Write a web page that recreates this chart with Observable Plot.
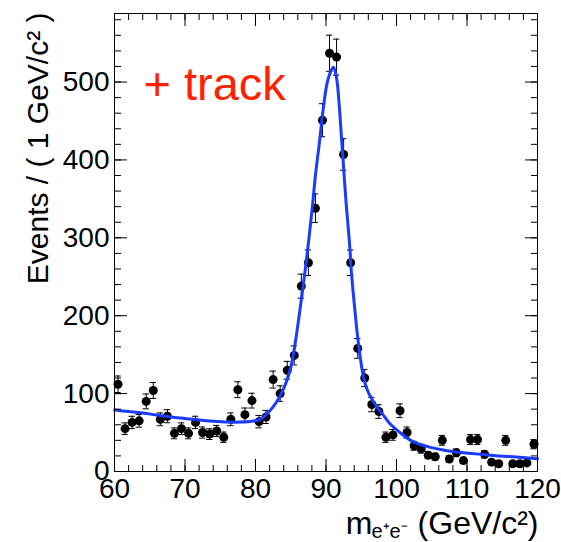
<!DOCTYPE html>
<html>
<head>
<meta charset="utf-8">
<script src="https://cdn.jsdelivr.net/npm/d3@7"></script>
<script src="https://cdn.jsdelivr.net/npm/@observablehq/plot@0.6"></script>
<style>
html, body { margin: 0; padding: 0; background: #fff; }
#chart svg { display: block; }
</style>
</head>
<body>
<div id="chart"></div>
<script>
// ---- Data ----
const massBins = [60.5, 61.5, 62.5, 63.5, 64.5, 65.5, 66.5, 67.5, 68.5, 69.5,
  70.5, 71.5, 72.5, 73.5, 74.5, 75.5, 76.5, 77.5, 78.5, 79.5,
  80.5, 81.5, 82.5, 83.5, 84.5, 85.5, 86.5, 87.5, 88.5, 89.5,
  90.5, 91.5, 92.5, 93.5, 94.5, 95.5, 96.5, 97.5, 98.5, 99.5,
  100.5, 101.5, 102.5, 103.5, 104.5, 105.5, 106.5, 107.5, 108.5, 109.5,
  110.5, 111.5, 112.5, 113.5, 114.5, 115.5, 116.5, 117.5, 118.5, 119.5];
const events = [112, 55, 63, 65, 90, 104, 67, 71, 49, 55,
  49, 63, 50, 48, 52, 44, 67, 105, 73, 91,
  64, 70, 118, 100, 130, 149, 238, 268, 338, 451,
  537, 532, 407, 268, 158, 120, 86, 77, 44, 47,
  78, 50, 33, 29, 21, 19, 40, 16, 24, 14,
  41, 41, 22, 12, 10, 40, 10, 10, 11, 35];
const eventErrors = [10.6, 7.4, 7.9, 8.1, 9.5, 10.2, 8.2, 8.4, 7.0, 7.4,
  7.0, 7.9, 7.1, 6.9, 7.2, 6.6, 8.2, 10.2, 8.5, 9.5,
  8.0, 8.4, 10.9, 10.0, 11.4, 12.2, 15.4, 16.4, 18.4, 21.2,
  23.2, 23.1, 20.2, 16.4, 12.6, 11.0, 9.3, 8.8, 6.6, 6.9,
  8.8, 7.1, 5.7, 5.4, 4.6, 4.4, 6.3, 4.0, 4.9, 3.7,
  6.4, 6.4, 4.7, 3.5, 3.2, 6.3, 3.2, 3.2, 3.3, 5.9];

const fitMass = [60, 62, 64, 66, 68, 70, 72, 74, 76, 78,
  79.5, 80.7, 81.5, 82.5, 83.5, 84.5, 85.2, 85.8, 86.4, 87.1,
  87.6, 88.1, 88.5, 89.1, 89.6, 90.1, 90.6, 91.05, 91.5, 91.9,
  92.2, 92.55, 92.85, 93.3, 93.6, 94.1, 94.6, 95.3, 95.8, 96.5,
  97.2, 98, 99, 100.5, 102, 103.3, 104.8, 107, 109.5, 112,
  114.5, 117, 120];
const fitEvents = [79, 77, 75, 72.5, 70, 68, 66, 64.5, 63.5, 63.5,
  64.5, 67, 73, 83, 97, 118, 142, 175, 214, 262,
  301, 343, 380, 425, 465, 496, 512, 519, 505, 467,
  428, 383, 345, 297, 256, 207, 164, 122, 106, 93,
  83, 74, 62, 50, 40, 35, 31, 27, 24, 22,
  20, 18.5, 16.5];

const xMajorTicks = [60, 70, 80, 90, 100, 110, 120];
const xMinorTicks = [60, 62, 64, 66, 68, 70, 72, 74, 76, 78, 80, 82, 84, 86, 88, 90,
  92, 94, 96, 98, 100, 102, 104, 106, 108, 110, 112, 114, 116, 118, 120];
const yMajorTicks = [0, 100, 200, 300, 400, 500];
const yMinorTicks = [0, 20, 40, 60, 80, 100, 120, 140, 160, 180, 200, 220, 240, 260, 280,
  300, 320, 340, 360, 380, 400, 420, 440, 460, 480, 500, 520, 540, 560, 580];

const yTitle = "Events / ( 1 GeV/c² )";
const xTitleSymbol = "m";
const xTitleSub = "e⁺e⁻";
const xTitleUnit = "(GeV/c²)";
const annotation = "+ track";

// ---- Build tables ----
const points = massBins.map((m, i) => ({mass: m, events: events[i], err: eventErrors[i]}));
const fit = fitMass.map((m, i) => ({mass: m, events: fitEvents[i]}));

const font = "'Liberation Sans', Arial, Helvetica, sans-serif";
const tickOnly = {tickFormat: () => "", fill: "none", label: null};

const chart = Plot.plot({
  width: 561,
  height: 542,
  marginLeft: 114,
  marginRight: 24,
  marginTop: 13,
  marginBottom: 71,
  style: {fontFamily: font, background: "#fff", color: "#000", overflow: "visible"},
  x: {domain: [60, 120]},
  y: {domain: [0, 588]},
  marks: [
    // error bars
    Plot.ruleX(points, {x: "mass", y1: d => d.events - d.err, y2: d => d.events + d.err, stroke: "#000", strokeWidth: 1}),
    Plot.ruleY(points, {y: d => d.events - d.err, x1: d => d.mass - 0.45, x2: d => d.mass + 0.45, stroke: "#000", strokeWidth: 1}),
    Plot.ruleY(points, {y: d => d.events + d.err, x1: d => d.mass - 0.45, x2: d => d.mass + 0.45, stroke: "#000", strokeWidth: 1}),
    Plot.dot(points, {x: "mass", y: "events", r: 4.5, fill: "#000", stroke: null}),
    // fit curve
    Plot.line(fit, {x: "mass", y: "events", stroke: "#1a3cff", strokeWidth: 3, curve: "catmull-rom"}),
    // inward ticks on all four sides
    Plot.axisX(xMinorTicks, {anchor: "bottom", tickSize: -6, ...tickOnly}),
    Plot.axisX(xMajorTicks, {anchor: "bottom", tickSize: -12, ...tickOnly}),
    Plot.axisX(xMinorTicks, {anchor: "top", tickSize: -6, ...tickOnly}),
    Plot.axisX(xMajorTicks, {anchor: "top", tickSize: -12, ...tickOnly}),
    Plot.axisY(yMinorTicks, {anchor: "left", tickSize: -7, ...tickOnly}),
    Plot.axisY(yMajorTicks, {anchor: "left", tickSize: -13, ...tickOnly}),
    Plot.axisY(yMinorTicks, {anchor: "right", tickSize: -7, ...tickOnly}),
    Plot.axisY(yMajorTicks, {anchor: "right", tickSize: -13, ...tickOnly}),
    // tick labels
    Plot.axisX(xMajorTicks, {anchor: "bottom", tickSize: 0, tickPadding: 7, fontSize: 28, label: null}),
    Plot.axisY(yMajorTicks, {anchor: "left", tickSize: 0, tickPadding: 5, fontSize: 28, label: null}),
    Plot.frame({stroke: "#000", strokeWidth: 1}),
    // titles
    Plot.text([yTitle], {text: d => d, frameAnchor: "top-left", rotate: -90, textAnchor: "end", lineAnchor: "middle", dx: -76, dy: -1, fontSize: 30, fill: "#000"}),
    Plot.text([xTitleUnit], {text: d => d, frameAnchor: "bottom-right", textAnchor: "end", lineAnchor: "bottom", dx: 1, dy: 62, fontSize: 32, fill: "#000"}),
    Plot.text([xTitleSymbol], {text: d => d, frameAnchor: "bottom-right", textAnchor: "end", lineAnchor: "bottom", dx: -165, dy: 62, fontSize: 32, fill: "#000"}),
    Plot.text([xTitleSub], {text: d => d, frameAnchor: "bottom-right", textAnchor: "start", lineAnchor: "bottom", dx: -166, dy: 66, fontSize: 20, fill: "#000"}),
    // annotation
    Plot.text([annotation], {text: d => d, frameAnchor: "top-left", textAnchor: "start", lineAnchor: "bottom", dx: 29, dy: 86, fontSize: 47, fill: "#ff2200"})
  ]
});

document.getElementById("chart").appendChild(chart);
</script>
</body>
</html>
